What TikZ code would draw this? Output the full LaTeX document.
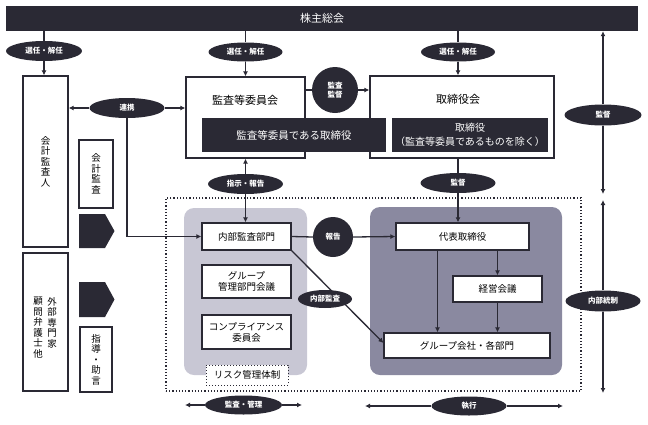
\documentclass[tikz,border=0pt]{standalone}
\usepackage{fontspec}
\setmainfont{Noto Sans CJK JP}
\usetikzlibrary{arrows.meta,shapes.geometric}
\definecolor{dk}{RGB}{42,41,52}
\definecolor{lightreg}{RGB}{200,199,212}
\definecolor{darkreg}{RGB}{138,137,160}
\tikzset{
 box/.style={draw=dk, line width=1.3pt, fill=white, inner sep=0pt, align=center, font=\fontsize{9.5}{11}\selectfont},
 dbox/.style={fill=dk, text=white, inner sep=0pt, align=center, font=\fontsize{10.5}{14}\selectfont},
 lab/.style={ellipse, fill=dk, text=white, inner sep=0pt, align=center, font=\bfseries\fontsize{7.5}{9}\selectfont},
 ln/.style={draw=dk, line width=1.3pt},
 arr/.style={ln, -{Latex[length=5pt,width=5pt]}},
 vtext/.style={align=center, font=\fontsize{9.5}{10.5}\selectfont, inner sep=0pt},
 plain/.style={inner sep=0pt, align=center},
 region/.style={inner sep=0pt, rounded corners=10pt},
}
\begin{document}
\begin{tikzpicture}[x=1pt,y=-1pt]
\useasboundingbox (0,0) rectangle (648,424);
% top bar
\node[fill=dk, minimum width=632pt, minimum height=25pt, inner sep=0pt, text=white, font=\fontsize{11}{13}\selectfont] (bar) at (322,18.5) {株主総会};
% regions
\node[draw=dk, dotted, line width=1.2pt, minimum width=415pt, minimum height=193pt, inner sep=0pt] (outer) at (373.5,294.5) {};
\node[region, fill=lightreg, minimum width=123pt, minimum height=167pt] (regA) at (245.5,291.5) {};
\node[region, fill=darkreg, minimum width=192pt, minimum height=168pt] (regB) at (466,291) {};
% left column
\node[box, vtext, minimum width=45pt, minimum height=171pt] (kaikei) at (45.5,161.5) {会\\計\\監\\査\\人};
\node[box, minimum width=45pt, minimum height=138pt] (gaibu) at (45.5,322) {};
\node[vtext, anchor=north] (gaibuA) at (52,297) {外\\部\\専\\門\\家};
\node[vtext, anchor=north] (gaibuB) at (38,297) {顧\\問\\弁\\護\\士\\他};
\node[box, vtext, minimum width=34pt, minimum height=68pt] (kansa) at (96,174) {会\\計\\監\\査};
\node[box, vtext, minimum width=32pt, minimum height=65pt] (shido) at (96,359.5) {指\\導\\・\\助\\言};
\fill[dk] (79,214) -- (105,214) -- (114.5,231) -- (105,248) -- (79,248) -- cycle;
\fill[dk] (79,282) -- (105,282) -- (114.5,299.5) -- (105,317) -- (79,317) -- cycle;
% committee and board
\node[box, minimum width=119pt, minimum height=81pt] (kansaiinkai) at (245.5,117.5) {};
\node[plain, font=\fontsize{11}{13}\selectfont] (kansaiinkaiT) at (245,100) {監査等委員会};
\node[box, minimum width=184pt, minimum height=82pt] (torikai) at (462,117) {};
\node[plain, font=\fontsize{11}{13}\selectfont] (torikaiT) at (458,99.5) {取締役会};
\node[dbox, minimum width=184pt, minimum height=34pt] (dark1) at (294,135) {監査等委員である取締役};
\node[dbox, minimum width=156pt, minimum height=34pt, font=\fontsize{10}{13.5}\selectfont] (dark2) at (470,135) {取締役\\（監査等委員であるものを除く）};
% inner boxes
\node[box, minimum width=89pt, minimum height=27pt] (naibu) at (246.5,236.5) {内部監査部門};
\node[box, minimum width=89pt, minimum height=33pt] (gkanri) at (246.5,281.5) {グループ\\管理部門会議};
\node[box, minimum width=89pt, minimum height=34pt] (comp) at (246.5,332) {コンプライアンス\\委員会};
\node[draw=dk, dotted, line width=1pt, fill=white, minimum width=82pt, minimum height=20pt, inner sep=0pt, font=\fontsize{9.5}{11}\selectfont] (risk) at (247,375) {リスク管理体制};
\node[box, minimum width=133pt, minimum height=27pt] (daihyo) at (462.5,236.5) {代表取締役};
\node[box, minimum width=89pt, minimum height=26pt] (keiei) at (497.5,289) {経営会議};
\node[box, minimum width=166pt, minimum height=25pt] (groupco) at (467,345.5) {グループ会社・各部門};
% labels
\node[lab, minimum width=76pt, minimum height=20pt] (sen1) at (44,51) {選任・解任};
\node[lab, minimum width=74pt, minimum height=19pt] (sen2) at (245.5,52) {選任・解任};
\node[lab, minimum width=74pt, minimum height=19pt] (sen3) at (458,52) {選任・解任};
\node[lab, minimum width=75pt, minimum height=20pt] (renkei) at (127,108) {連携};
\node[lab, circle, minimum size=46pt] (kk) at (335,90) {監査\\監督};
\node[lab, minimum width=75pt, minimum height=20pt] (shiji) at (245.5,184) {指示・報告};
\node[lab, minimum width=75pt, minimum height=20pt] (kantoku) at (458,183) {監督};
\node[lab, circle, minimum size=40pt] (hokoku) at (333,237) {報告};
\node[lab, minimum width=77pt, minimum height=21pt] (kantoku2) at (603,115) {監督};
\node[lab, minimum width=75pt, minimum height=21pt] (naibutosei) at (603,301) {内部統制};
\node[lab, minimum width=77pt, minimum height=19pt] (kanri) at (243.5,405) {監査・管理};
\node[lab, minimum width=75pt, minimum height=19pt] (shikko) at (469,406) {執行};
% connectors
\draw[ln] (sen1 |- bar.south) -- (sen1.north);
\draw[arr] (sen1.south) -- (sen1.south |- kaikei.north);
\draw[ln] (sen2 |- bar.south) -- (sen2.north);
\draw[arr] (sen2.south) -- (sen2.south |- kansaiinkai.north);
\draw[ln] (sen3 |- bar.south) -- (sen3.north);
\draw[arr] (sen3.south) -- (sen3.south |- torikai.north);
\draw[arr] (renkei.west) -- (kaikei.east |- renkei.west);
\draw[arr] (renkei.east) -- (kansaiinkai.west |- renkei.east);
\draw[arr] (renkei.south) -- (renkei.south |- naibu.west) -- (naibu.west);
\draw[ln] (kansaiinkai.east |- kk) -- (kk.west);
\draw[arr] (kk.east) -- (torikai.west |- kk.east);
\draw[arr] (shiji.north) -- (shiji.north |- kansaiinkai.south);
\draw[arr] (shiji.south) -- (shiji.south |- naibu.north);
\draw[ln] (kantoku |- torikai.south) -- (kantoku.north);
\draw[arr] (kantoku.south) -- (kantoku.south |- daihyo.north);
\draw[ln] (naibu.east) -- (hokoku.west);
\draw[arr] (hokoku.east) -- (daihyo.west);
\coordinate (dgo) at (383.5,343);
\draw[arr] (naibu.south east) -- (dgo);
\node[lab, minimum width=54pt, minimum height=18pt] (naibukansa) at (325,299) {内部監査};
\draw[arr] ([xshift=-25pt]daihyo.south) -- ([xshift=-25pt]daihyo.south |- groupco.north);
\draw[arr] (keiei.north |- daihyo.south) -- (keiei.north);
\draw[arr] (keiei.south) -- (keiei.south |- groupco.north);
% right side
\coordinate (r1) at (603,194);
\coordinate (r2) at (603,200);
\coordinate (r3) at (603,393);
\draw[arr] (kantoku2.north) -- (kantoku2.north |- bar.south);
\draw[arr] (kantoku2.south) -- (r1);
\draw[arr] (naibutosei.north) -- (r2);
\draw[arr] (naibutosei.south) -- (r3);
% bottom
\coordinate (b1) at (185,405);
\coordinate (b2) at (302,405);
\coordinate (b3) at (365,406);
\coordinate (b4) at (563,406);
\draw[arr] (kanri.west) -- (b1);
\draw[arr] (kanri.east) -- (b2);
\draw[arr] (shikko.west) -- (b3);
\draw[arr] (shikko.east) -- (b4);
\end{tikzpicture}
\end{document}
